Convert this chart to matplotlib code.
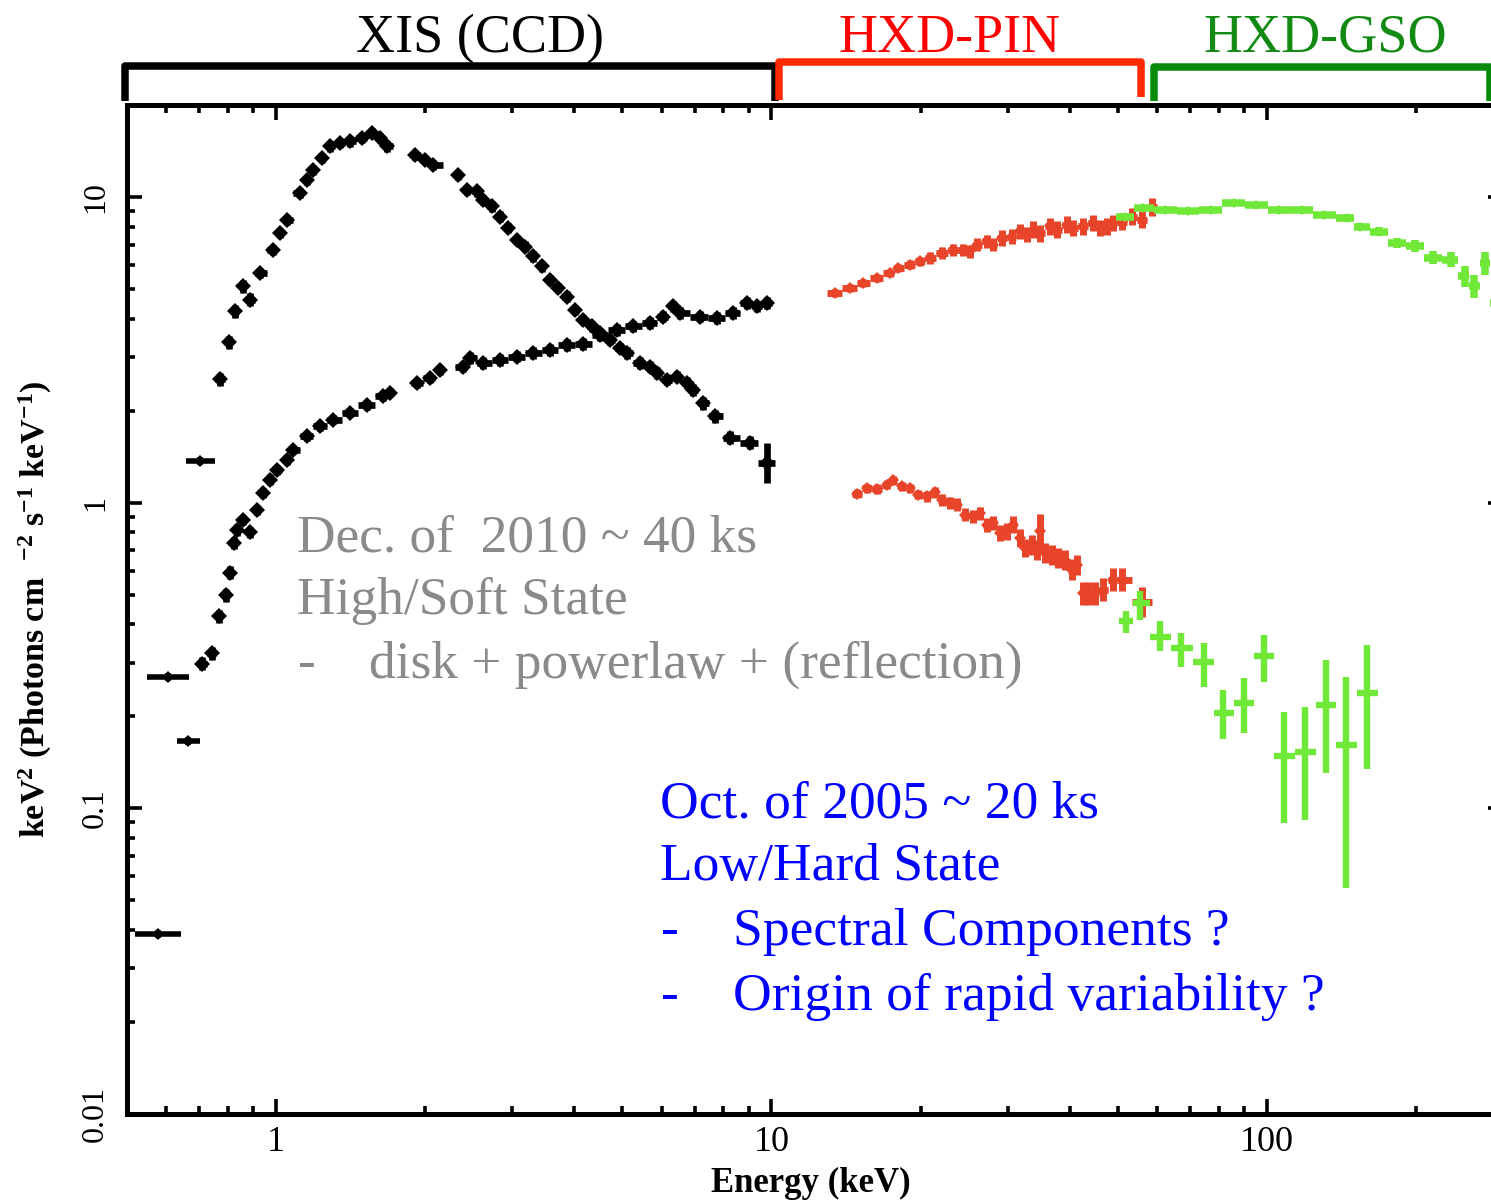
import numpy as np
import matplotlib
matplotlib.use("Agg")
import matplotlib.pyplot as plt
from matplotlib.transforms import blended_transform_factory
from matplotlib.ticker import FixedLocator, FixedFormatter, LogLocator, NullFormatter

plt.rcParams["font.family"] = ["Liberation Serif", "DejaVu Serif"]
plt.rcParams["mathtext.fontset"] = "custom"
plt.rcParams["mathtext.rm"] = "Liberation Serif:bold"
plt.rcParams["mathtext.it"] = "Liberation Serif:italic:bold"
plt.rcParams["mathtext.bf"] = "Liberation Serif:bold"

# ---------------------------------------------------------------- data
# Energies in keV, nuFnu in keV^2 (photons cm^-2 s^-1 keV^-1)

# High/Soft state (Dec 2010), XIS: wide low-energy bins with explicit edges
soft_xis_wide_E = [0.605, 0.703]
soft_xis_wide_lo = [0.549, 0.658]
soft_xis_wide_hi = [0.667, 0.753]
soft_xis_wide_F = [0.269, 1.372]
soft_xis_wide_rel = [0.03, 0.03]

soft_xis_E = [0.771, 0.805, 0.827, 0.857, 0.886, 0.928, 0.988, 1.019, 1.051, 1.118,
              1.153, 1.19, 1.236, 1.285, 1.346, 1.41, 1.489, 1.56, 1.621, 1.673,
              1.908, 1.999, 2.077,
              2.333, 2.426, 2.541, 2.62, 2.725, 2.832, 2.944, 3.06, 3.18, 3.306,
              3.438, 3.573, 3.713, 3.861, 4.013, 4.172, 4.336, 4.507, 4.722, 4.946,
              5.10, 5.43, 5.69, 5.87, 6.14, 6.44, 6.74, 6.95, 7.29, 7.69, 8.25,
              9.05, 9.78]
soft_xis_F = [2.54, 3.35, 4.23, 5.11, 4.62, 5.65, 6.73, 7.63, 8.44, 10.32,
              11.41, 12.3, 13.44, 14.67, 15.05, 15.23, 15.62, 16.23, 15.62, 14.67,
              13.78, 13.27, 12.78,
              11.85, 10.58, 10.45, 9.81, 9.33, 8.65, 7.93, 7.26, 6.90, 6.40,
              5.94, 5.37, 5.04, 4.73, 4.28, 3.97, 3.78, 3.59, 3.42, 3.21,
              3.09, 2.87, 2.79, 2.66, 2.53, 2.59, 2.47, 2.34, 2.12, 1.92, 1.63,
              1.57, 1.35]
soft_xis_rel = [0.05, 0.05, 0.05, 0.05, 0.05, 0.04, 0.04, 0.04, 0.04, 0.04,
                0.04, 0.04, 0.04, 0.04, 0.04, 0.04, 0.04, 0.04, 0.04, 0.04,
                0.04, 0.04, 0.04,
                0.04, 0.04, 0.04, 0.04, 0.04, 0.04, 0.04, 0.04, 0.04, 0.04,
                0.04, 0.04, 0.04, 0.04, 0.04, 0.04, 0.04, 0.04, 0.04, 0.04,
                0.045, 0.045, 0.045, 0.045, 0.045, 0.045, 0.045, 0.05, 0.05, 0.05, 0.05,
                0.05, 0.16]

# Low/Hard state (Oct 2005), XIS
hard_xis_wide_E = [0.578, 0.664]
hard_xis_wide_lo = [0.519, 0.631]
hard_xis_wide_hi = [0.643, 0.703]
hard_xis_wide_F = [0.0388, 0.166]
hard_xis_wide_rel = [0.03, 0.03]

hard_xis_E = [0.709, 0.744, 0.768, 0.791, 0.809, 0.822, 0.835, 0.858, 0.886, 0.914,
              0.943, 0.972, 1.003, 1.051, 1.084, 1.153, 1.227, 1.305, 1.41, 1.524,
              1.646, 1.699,
              1.923, 2.046, 2.143,
              2.388, 2.464, 2.62, 2.832, 3.06, 3.306, 3.573, 3.861, 4.172, 4.507,
              4.87, 5.26, 5.69, 6.05, 6.34, 6.54, 7.17, 7.75, 8.37, 8.91, 9.34, 9.78]
hard_xis_F = [0.297, 0.322, 0.425, 0.498, 0.591, 0.74, 0.816, 0.88, 0.80, 0.949,
              1.076, 1.19, 1.28, 1.38, 1.49, 1.65, 1.78, 1.87, 1.97, 2.09,
              2.23, 2.29,
              2.47, 2.56, 2.72,
              2.79, 2.98, 2.87, 2.94, 3.01, 3.09, 3.17, 3.28, 3.31, 3.55,
              3.68, 3.78, 3.87, 4.07, 4.39, 4.18, 4.07, 4.02, 4.18, 4.51, 4.39, 4.51]
hard_xis_rel = [0.05, 0.05, 0.05, 0.05, 0.05, 0.045, 0.045, 0.04, 0.04, 0.04,
                0.04, 0.04, 0.035, 0.035, 0.035, 0.035, 0.035, 0.035, 0.035, 0.035,
                0.035, 0.035,
                0.04, 0.04, 0.04,
                0.045, 0.045, 0.045, 0.045, 0.045, 0.045, 0.045, 0.045, 0.045, 0.045,
                0.045, 0.045, 0.045, 0.045, 0.045, 0.045, 0.045, 0.045, 0.045, 0.045,
                0.045, 0.045]

# Excluded XIS energy ranges (Si K and Au M edges)
xis_gaps = [(1.72, 1.87), (2.17, 2.30)]

# HXD-PIN, Low/Hard state
hard_pin_E = [13.43, 14.40, 15.32, 16.31, 17.35, 18.03, 19.03, 19.94, 20.89, 22.06,
              23.28, 24.39, 25.16, 25.95, 27.19, 28.03, 29.15, 30.53, 31.73, 32.73,
              33.76, 34.83, 36.49, 37.64, 39.43, 40.65, 42.59, 44.61, 46.03, 47.49,
              48.96, 50.91, 53.33, 55.87, 58.53]
hard_pin_F = [4.86, 5.04, 5.24, 5.44, 5.65, 5.87, 6.01, 6.17, 6.32, 6.57,
              6.73, 6.73, 6.65, 6.99, 7.17, 6.99, 7.35, 7.44, 7.73, 7.54,
              7.83, 7.63, 8.03, 7.83, 8.13, 7.93, 8.03, 8.23, 7.93, 8.03,
              8.23, 8.33, 8.65, 8.44, 9.31]
hard_pin_rel = [0.03, 0.03, 0.03, 0.03, 0.03, 0.03, 0.035, 0.035, 0.045, 0.045,
                0.045, 0.045, 0.05, 0.05, 0.05, 0.05, 0.06, 0.06, 0.06, 0.06,
                0.065, 0.065, 0.065, 0.065, 0.065, 0.065, 0.065, 0.065, 0.065, 0.065,
                0.065, 0.065, 0.065, 0.065, 0.07]

# HXD-PIN, High/Soft state
soft_pin_E = [14.86, 15.57, 16.31, 17.08, 17.61, 18.31, 19.03, 19.79, 20.57, 21.38,
              22.06, 22.92, 23.65, 24.58, 25.55, 26.36, 27.19, 28.03, 28.92, 29.83,
              30.76, 31.73, 32.48, 33.51, 34.30, 34.83, 35.65, 36.78, 37.92, 39.12,
              40.35, 41.29, 42.47, 43.60, 44.98, 46.72, 48.96, 50.91, 55.87]
soft_pin_F = [1.070, 1.117, 1.109, 1.145, 1.183, 1.131, 1.117, 1.062, 1.049, 1.081,
              1.023, 0.998, 0.985, 0.913, 0.902, 0.925, 0.847, 0.858, 0.796, 0.806,
              0.847, 0.766, 0.711, 0.729, 0.702, 0.806, 0.684, 0.676, 0.659, 0.651,
              0.604, 0.627, 0.506, 0.506, 0.506, 0.519, 0.560, 0.560, 0.475]
soft_pin_rel = [0.035, 0.035, 0.035, 0.035, 0.035, 0.035, 0.035, 0.035, 0.04, 0.04,
                0.045, 0.045, 0.05, 0.05, 0.05, 0.05, 0.055, 0.055, 0.065, 0.065,
                0.065, 0.07, 0.07, 0.08, 0.08, 0.14, 0.08, 0.08, 0.08, 0.08,
                0.08, 0.08, 0.09, 0.09, 0.09, 0.09, 0.09, 0.09, 0.12]

# HXD-GSO, Low/Hard state
hard_gso_E = [51.6, 56.1, 62.4, 69.3, 77.0, 85.6, 95.1, 105.7, 117.4, 130.5,
              145.0, 154.4, 168.0, 182.8, 198.9, 216.3, 235.3, 250.6, 261.6, 275.7,
              288.0]
hard_gso_F = [8.65, 9.22, 9.10, 8.99, 9.10, 9.57, 9.45, 9.10, 9.10, 8.76,
              8.55, 8.02, 7.72, 7.08, 6.91, 6.33, 6.25, 5.51, 5.11, 6.09,
              4.50]
hard_gso_rel = [0.01, 0.02, 0.02, 0.02, 0.02, 0.02, 0.02, 0.02, 0.02, 0.025,
                0.03, 0.03, 0.035, 0.04, 0.045, 0.05, 0.06, 0.08, 0.09, 0.09,
                0.1]

# HXD-GSO, High/Soft state (asymmetric errors)
soft_gso_E = [51.9, 55.5, 60.8, 67.2, 74.6, 81.7, 89.7, 98.8, 108.4, 119.5, 131.8, 144.3, 159.4]
soft_gso_F = [0.409, 0.47, 0.365, 0.334, 0.302, 0.205, 0.221, 0.314, 0.148, 0.153, 0.218, 0.161, 0.238]
soft_gso_lo = [0.376, 0.414, 0.326, 0.291, 0.250, 0.168, 0.176, 0.260, 0.0894, 0.0918, 0.130, 0.055, 0.134]
soft_gso_hi = [0.444, 0.513, 0.409, 0.375, 0.347, 0.244, 0.267, 0.370, 0.207, 0.215, 0.306, 0.270, 0.343]

# Instrument coverage brackets
instruments = ["XIS (CCD)", "HXD-PIN", "HXD-GSO"]
band_lo = [0.496, 10.35, 59.1]
band_hi = [10.16, 55.7, 282.0]

x_ticks = [1, 10, 100]
x_ticklabels = ["1", "10", "100"]
y_ticks = [0.01, 0.1, 1, 10]
y_ticklabels = ["0.01", "0.1", "1", "10"]

# ---------------------------------------------------------------- styles
BLACK = "#000000"
RED = "#e8442a"
GREEN = "#70e838"
GREY_TXT = "#8a8a8a"
BLUE_TXT = "#0000ff"
bracket_colors = ["#000000", "#ff2a00", "#0a8a0a"]
label_colors = ["#000000", "#ff0000", "#138a13"]

W, H = 1491, 1201


def px(x, y):
    """pixel position -> figure fraction"""
    return x / W, 1 - y / H


def bin_edges(E, gaps=(), cap=0.02):
    lg = np.log10(np.asarray(E, float))
    mids = 0.5 * (lg[1:] + lg[:-1])
    lo = np.empty_like(lg)
    hi = np.empty_like(lg)
    lo[1:] = mids
    hi[:-1] = mids
    lo[0] = lg[0] - (mids[0] - lg[0])
    hi[-1] = lg[-1] + (lg[-1] - mids[-1])
    lo = np.maximum(lo, lg - cap)
    hi = np.minimum(hi, lg + cap)
    for g0, g1 in gaps:
        l0, l1 = np.log10(g0), np.log10(g1)
        left = lg < l0
        hi[left] = np.minimum(hi[left], l0)
        right = lg > l1
        lo[right] = np.maximum(lo[right], l1)
    return 10 ** lo, 10 ** hi


def draw(ax, E, F, color, rel=None, lo=None, hi=None, ylo=None, yhi=None,
         gaps=(), cap=0.02, lw=4.0, ms=0, z=2):
    E = np.asarray(E, float)
    F = np.asarray(F, float)
    if lo is None:
        lo, hi = bin_edges(E, gaps, cap)
    lo = np.asarray(lo, float)
    hi = np.asarray(hi, float)
    if ylo is None:
        r = np.asarray(rel, float)
        ylo, yhi = F / (1 + r), F * (1 + r)
    ylo = np.asarray(ylo, float)
    yhi = np.asarray(yhi, float)
    ax.errorbar(E, F, xerr=[E - lo, hi - E], yerr=[F - ylo, yhi - F],
                fmt="D" if ms else "none", ms=ms, mew=0, color=color,
                ecolor=color, elinewidth=lw, capsize=0, zorder=z)


# ---------------------------------------------------------------- figure
fig = plt.figure(figsize=(W / 100, H / 100), dpi=100)
ax = fig.add_axes([126.8 / W, (H - 1113.8) / H, 1376.6 / W, 1008.5 / H])
ax.set_xscale("log")
ax.set_yscale("log")
ax.set_xlim(0.5, 300)
ax.set_ylim(0.01, 20)

# XIS spectra
draw(ax, soft_xis_wide_E, soft_xis_wide_F, BLACK, rel=soft_xis_wide_rel,
     lo=soft_xis_wide_lo, hi=soft_xis_wide_hi, lw=4.0, ms=6)
draw(ax, soft_xis_E, soft_xis_F, BLACK, rel=soft_xis_rel, gaps=xis_gaps, lw=4.8, ms=8)
draw(ax, hard_xis_wide_E, hard_xis_wide_F, BLACK, rel=hard_xis_wide_rel,
     lo=hard_xis_wide_lo, hi=hard_xis_wide_hi, lw=4.0, ms=6)
draw(ax, hard_xis_E, hard_xis_F, BLACK, rel=hard_xis_rel, gaps=xis_gaps, lw=4.8, ms=8)

# PIN spectra
draw(ax, hard_pin_E, hard_pin_F, RED, rel=hard_pin_rel, lw=5.0, ms=6.5, z=3)
draw(ax, soft_pin_E, soft_pin_F, RED, rel=soft_pin_rel, lw=5.0, ms=6.5, z=3)

# GSO spectra
draw(ax, hard_gso_E, hard_gso_F, GREEN, rel=hard_gso_rel, cap=0.03, lw=5.4, ms=5, z=4)
draw(ax, soft_gso_E, soft_gso_F, GREEN, ylo=soft_gso_lo, yhi=soft_gso_hi, cap=0.03,
     lw=4.6, z=4)

# axes styling
for s in ax.spines.values():
    s.set_linewidth(3.6)
ax.xaxis.set_major_locator(FixedLocator(x_ticks))
ax.xaxis.set_major_formatter(FixedFormatter(x_ticklabels))
ax.xaxis.set_minor_locator(LogLocator(base=10, subs=np.arange(2, 10), numticks=30))
ax.xaxis.set_minor_formatter(NullFormatter())
ax.yaxis.set_major_locator(FixedLocator(y_ticks))
ax.yaxis.set_major_formatter(FixedFormatter(y_ticklabels))
ax.yaxis.set_minor_locator(LogLocator(base=10, subs=np.arange(2, 10), numticks=30))
ax.yaxis.set_minor_formatter(NullFormatter())
ax.tick_params(which="both", direction="in", top=True, right=True, width=2.6)
ax.tick_params(which="major", length=11)
ax.tick_params(which="minor", length=6)
ax.tick_params(axis="x", which="major", labelsize=26, pad=9)
ax.tick_params(axis="y", which="major", labelsize=23, pad=12)
for lab in ax.get_yticklabels():
    lab.set_rotation(90)
    lab.set_va("center")
    lab.set_ha("right")

ax.set_xlabel("Energy (keV)", fontsize=25, fontweight="bold")
ax.xaxis.set_label_coords(0.497, -0.053)
ax.xaxis.label.set_va("top")
ax.set_ylabel(r"keV$^{2}$ (Photons cm  $^{-2}$ s$^{-1}$ keV$^{-1}$)",
              fontsize=24.5, fontweight="bold")
ax.yaxis.set_label_coords(-0.0667, 0.5)
ax.yaxis.label.set_va("center")

# instrument brackets above the frame
trans = blended_transform_factory(ax.transData, ax.transAxes)


def yax(py):
    return (1113.8 - py) / 1008.5


bracket_top = [66, 62, 67]
bracket_left_foot = [101, 100, 101]
bracket_right_foot = [101, 97, 101]
for i in range(3):
    xs = [band_lo[i], band_lo[i], band_hi[i], band_hi[i]]
    ys = [yax(bracket_left_foot[i]), yax(bracket_top[i]), yax(bracket_top[i]),
          yax(bracket_right_foot[i])]
    ax.plot(xs, ys, transform=trans, color=bracket_colors[i], lw=5.4,
            solid_joinstyle="round", solid_capstyle="butt", clip_on=False, zorder=5)

label_x = [480, 950, 1325]
for i in range(3):
    fig.text(*px(label_x[i], 52), instruments[i], color=label_colors[i],
             fontsize=39, ha="center", va="baseline")

# state annotations
fs_g = 38.4
fig.text(*px(297, 551), "Dec. of  2010 ~ 40 ks", color=GREY_TXT, fontsize=fs_g, va="baseline")
fig.text(*px(297, 614), "High/Soft State", color=GREY_TXT, fontsize=fs_g, va="baseline")
fig.text(*px(298, 678), "-", color=GREY_TXT, fontsize=fs_g, va="baseline")
fig.text(*px(369, 678), "disk + powerlaw + (reflection)", color=GREY_TXT, fontsize=fs_g,
         va="baseline")

fs_b = 38.5
fig.text(*px(660, 817), "Oct. of 2005 ~ 20 ks", color=BLUE_TXT, fontsize=fs_b, va="baseline")
fig.text(*px(660, 880), "Low/Hard State", color=BLUE_TXT, fontsize=fs_b, va="baseline")
fig.text(*px(661, 945), "-", color=BLUE_TXT, fontsize=fs_b, va="baseline")
fig.text(*px(733, 945), "Spectral Components ?", color=BLUE_TXT, fontsize=fs_b, va="baseline")
fig.text(*px(661, 1010), "-", color=BLUE_TXT, fontsize=fs_b, va="baseline")
fig.text(*px(733, 1010), "Origin of rapid variability ?", color=BLUE_TXT, fontsize=fs_b,
         va="baseline")

fig.savefig("out.png", dpi=100)
